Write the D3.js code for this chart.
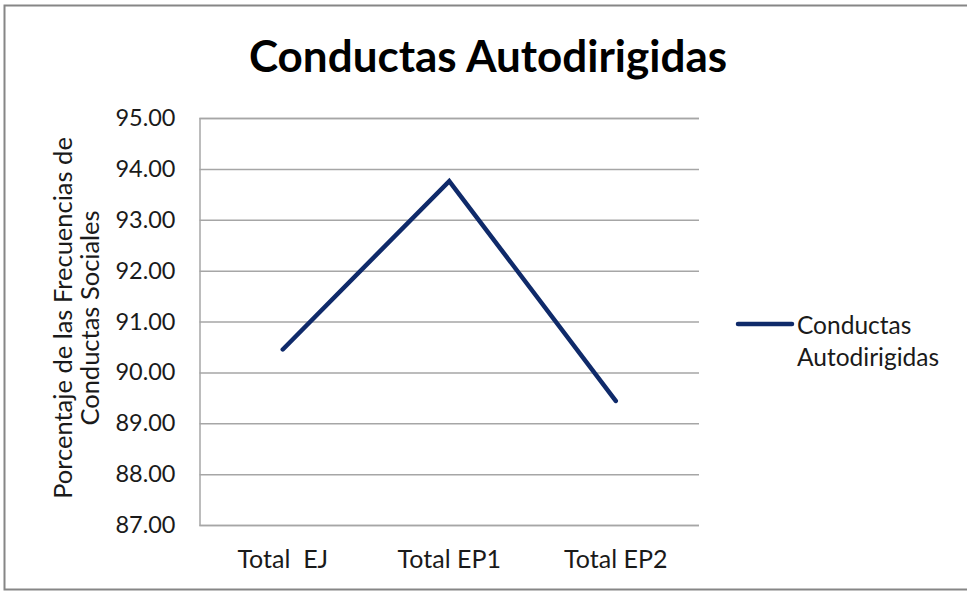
<!DOCTYPE html>
<html>
<head>
<meta charset="utf-8">
<script src="https://cdn.jsdelivr.net/npm/d3@7"></script>
<style>
  body { margin: 0; background: #fff; }
  text { font-family: Lato, "Open Sans", sans-serif; fill: #1a1a1a; }
</style>
</head>
<body>
<svg id="chart"></svg>
<script>
const categories = ["Total  EJ", "Total EP1", "Total EP2"];
const values = [90.45, 93.76, 89.44];
const seriesName = "Conductas Autodirigidas";
const yTicks = [87, 88, 89, 90, 91, 92, 93, 94, 95];

const width = 967;
const height = 592;
const plot = { left: 199.5, right: 699, top: 118, bottom: 525 };

const svg = d3.select("#chart")
    .attr("width", width)
    .attr("height", height);

// outer frame
svg.append("rect")
    .attr("x", 4.5)
    .attr("y", 5.5)
    .attr("width", width + 10)
    .attr("height", 584)
    .attr("fill", "none")
    .attr("stroke", "#868686")
    .attr("stroke-width", 2);

// title
svg.append("text")
    .attr("x", 488)
    .attr("y", 72)
    .attr("text-anchor", "middle")
    .style("font-size", "44px")
    .style("font-weight", "bold")
    .style("fill", "#000")
    .text(seriesName);

const x = d3.scaleBand()
    .domain(categories)
    .range([plot.left, plot.right]);

const y = d3.scaleLinear()
    .domain([87, 95])
    .range([plot.bottom, plot.top]);

// gridlines + y labels
const yAxis = d3.axisLeft(y)
    .tickValues(yTicks)
    .tickSize(-(plot.right - plot.left))
    .tickPadding(24)
    .tickFormat(d3.format(".2f"));

const gy = svg.append("g")
    .attr("transform", `translate(${plot.left},0)`)
    .call(yAxis);
gy.select(".domain").attr("stroke", "#a6a6a6").attr("stroke-width", 1.5);
gy.selectAll(".tick line").attr("stroke", "#a6a6a6").attr("stroke-width", 1.5);
gy.selectAll(".tick text")
    .style("font-size", "23.5px")
    .style("font-family", "Lato, sans-serif")
    .attr("fill", "#1a1a1a");

// x labels
const xAxis = d3.axisBottom(x).tickSize(0).tickPadding(25);
const gx = svg.append("g")
    .attr("transform", `translate(0,${plot.bottom})`)
    .call(xAxis);
gx.select(".domain").remove();
gx.selectAll(".tick text")
    .style("font-size", "25px")
    .style("font-family", "Lato, sans-serif")
    .style("white-space", "pre")
    .attr("fill", "#1a1a1a");

// y axis title
const yTitle = svg.append("text")
    .attr("transform", "translate(72,318) rotate(-90)")
    .attr("text-anchor", "middle")
    .style("font-size", "25.5px");
yTitle.append("tspan").attr("x", 0).attr("dy", 0).text("Porcentaje de las Frecuencias de");
yTitle.append("tspan").attr("x", 0).attr("dy", 27).text("Conductas Sociales");

// series line
const line = d3.line()
    .x((d, i) => x(categories[i]) + x.bandwidth() / 2)
    .y(d => y(d));

svg.append("path")
    .datum(values)
    .attr("d", line)
    .attr("fill", "none")
    .attr("stroke", "#0f2a6a")
    .attr("stroke-width", 4.5)
    .attr("stroke-linejoin", "miter")
    .attr("stroke-linecap", "round");

// legend
const legend = svg.append("g").attr("transform", "translate(738,324)");
legend.append("line")
    .attr("x1", 0).attr("x2", 54)
    .attr("stroke", "#0f2a6a")
    .attr("stroke-width", 4.5)
    .attr("stroke-linecap", "round");
const legText = legend.append("text")
    .attr("y", 9.5)
    .style("font-size", "24.5px");
legText.append("tspan").attr("x", 59).text("Conductas");
legText.append("tspan").attr("x", 59).attr("dy", 32).text("Autodirigidas");
</script>
</body>
</html>
